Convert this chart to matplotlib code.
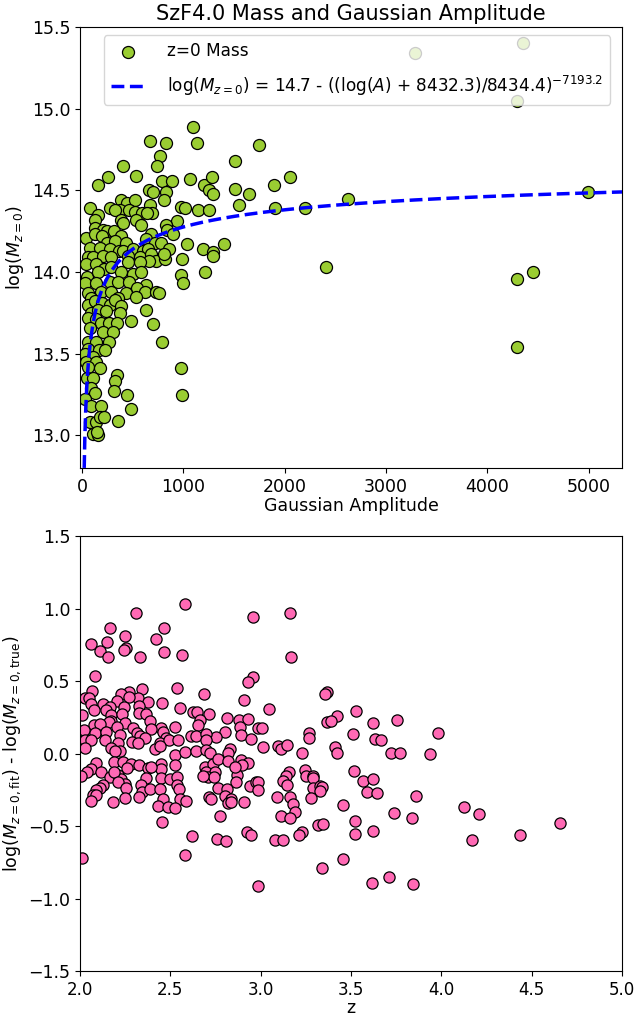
import numpy as np
import matplotlib.pyplot as plt

plt.rcParams['font.size'] = 12.5
plt.rcParams['axes.labelsize'] = 12.5
plt.rcParams['xtick.labelsize'] = 12.5
plt.rcParams['ytick.labelsize'] = 12.5
plt.rcParams['legend.fontsize'] = 12.2

# Panel superior: masa z=0 vs amplitud gaussiana
amp = [669, 833, 1139, 768, 408, 738, 257, 536, 158, 793, 892, 1070, 1205, 1281,
       1252, 1294, 659, 704, 830, 807, 382, 448, 527, 672, 79, 274, 372, 323, 461,
       521, 596, 692, 642, 975, 1015, 1146, 1255, 158, 131, 382, 408, 531, 586,
       936, 827, 837, 125, 205, 250, 313, 42, 125, 198, 388, 679, 896, 247, 323,
       438, 632, 724, 778, 1040, 1400, 1195, 1294, 1297, 79, 175, 274, 363, 408,
       507, 603, 652, 857, 59, 109, 207, 289, 454, 570, 679, 734, 823, 807, 662,
       991, 40, 135, 217, 289, 454, 573, 46, 158, 382, 504, 586, 975, 1218, 1001,
       33, 141, 274, 356, 461, 635, 546, 59, 185, 289, 438, 619, 728, 758, 92,
       356, 536,
       59, 125, 198, 274, 323, 382, 378, 635, 92, 158, 240, 59, 141, 191, 264,
       349, 487, 704, 76, 207, 306, 59, 141, 270, 793, 59, 165, 224, 27, 109, 42,
       141, 59, 175, 975, 52, 109, 349, 323, 92, 125, 316, 448, 991, 27, 92, 191,
       481, 76, 141, 175, 217, 356, 109, 158, 151,
       1749, 1512, 2048, 1890, 1650, 1554, 1907, 2203, 1512, 1100, 2411, 2628,
       3290, 4350, 4290, 4290, 4450, 4290, 4990]
log_masa = [14.80, 14.79, 14.79, 14.71, 14.65, 14.65, 14.58, 14.59, 14.53, 14.56,
            14.56, 14.57, 14.53, 14.58, 14.50, 14.48, 14.50, 14.49, 14.49, 14.44,
            14.44, 14.42, 14.44, 14.41, 14.39, 14.39, 14.38, 14.38, 14.38, 14.37,
            14.36, 14.36, 14.36, 14.40, 14.39, 14.38, 14.38, 14.35, 14.32, 14.32,
            14.30, 14.32, 14.29, 14.31, 14.29, 14.26, 14.27, 14.26, 14.25, 14.25,
            14.21, 14.23, 14.22, 14.22, 14.23, 14.23, 14.18, 14.19, 14.18, 14.20,
            14.18, 14.18, 14.17, 14.17, 14.14, 14.12, 14.10, 14.15, 14.15, 14.14,
            14.13, 14.13, 14.14, 14.13, 14.14, 14.14, 14.09, 14.09, 14.10, 14.09,
            14.10, 14.09, 14.11, 14.07, 14.08, 14.11, 14.07, 14.08, 14.05, 14.05,
            14.02, 14.03, 14.06, 14.06, 13.97, 14.00, 14.00, 13.99, 14.00, 13.98,
            14.00, 13.93, 13.93, 13.93, 13.94, 13.94, 13.94, 13.92, 13.90, 13.87,
            13.88, 13.88, 13.87, 13.88, 13.88, 13.87, 13.84, 13.84, 13.85,
            13.80, 13.82, 13.81, 13.80, 13.83, 13.79, 13.75, 13.77, 13.75, 13.77,
            13.76, 13.72, 13.71, 13.69, 13.69, 13.69, 13.70, 13.68, 13.66, 13.63,
            13.63, 13.57, 13.57, 13.57, 13.57, 13.53, 13.52, 13.52, 13.50, 13.48,
            13.45, 13.45, 13.42, 13.41, 13.41, 13.35, 13.35, 13.37, 13.33, 13.29,
            13.26, 13.27, 13.25, 13.25, 13.22, 13.18, 13.18, 13.16, 13.08, 13.08,
            13.11, 13.11, 13.09, 13.01, 13.00, 13.02,
            14.78, 14.68, 14.58, 14.53, 14.48, 14.41, 14.39, 14.39, 14.51, 14.89,
            14.03, 14.45, 15.34, 15.40, 15.05, 13.96, 14.00, 13.54, 14.49]

# Parametros del ajuste
fit_a, fit_b, fit_c, fit_d = 14.74, 8432.3, 8434.4, -7193.2

# Panel inferior: residuos vs redshift
z_vals = [2.583, 2.312, 2.957, 2.164, 2.465, 2.247, 2.419, 2.059, 2.151, 2.256,
          2.242, 2.109, 2.463, 2.155, 2.334, 2.566, 2.085, 2.957, 2.930, 2.537,
          2.066, 2.343, 2.271, 2.225, 2.026, 2.048, 2.686, 2.321, 2.271, 2.063,
          2.127, 2.206, 2.376, 2.454, 2.908, 2.164, 2.243, 2.327, 2.552, 2.076,
          2.146, 2.625, 2.647, 2.712, 2.327, 2.173, 2.234, 2.367, 2.011, 2.662,
          2.814, 2.878, 2.930, 2.173, 2.247, 2.386, 2.160, 2.077, 2.109, 2.206,
          2.293, 2.450, 2.524, 2.653, 2.884, 2.022, 2.081, 2.146, 2.220, 2.317,
          2.391, 2.459, 2.801, 2.985, 2.330, 2.358, 2.478, 2.754, 2.613, 2.644,
          2.699, 2.699, 2.893, 2.945, 2.026, 2.063, 2.137, 2.210, 2.288, 2.321,
          2.441, 2.491, 2.542,
          2.026, 2.173, 2.220, 2.413, 2.441, 2.524, 2.583, 2.644, 2.699, 2.718,
          2.828, 2.819, 2.192, 2.524, 2.188, 2.238, 2.284, 2.325, 2.262, 2.376,
          2.447, 2.450, 2.391, 2.090, 2.063, 2.040, 2.115, 2.007, 2.164, 2.210,
          2.229, 2.188, 2.364, 2.450, 2.496, 2.538, 2.690, 2.736, 2.764, 2.819,
          2.699, 2.745, 2.708, 2.742, 2.681, 2.889, 2.930, 2.898, 2.870, 2.865,
          2.942, 2.976, 2.856, 2.247, 2.210, 2.127, 2.109, 2.090, 2.072, 2.090,
          2.256, 2.339, 2.345, 2.386, 2.441, 2.537, 2.548, 2.327, 2.247, 2.183,
          2.059, 2.459, 2.552, 2.588, 2.432, 2.487, 2.527, 2.764, 2.815, 2.801,
          2.837, 2.712, 2.727, 2.819, 2.837, 2.908, 2.773, 2.455, 2.620, 2.760,
          2.810, 2.926, 2.945, 2.583, 2.011,
          3.168, 3.162, 3.369, 3.356, 3.048, 3.527, 3.421, 3.369, 3.389, 3.623,
          3.756, 3.005, 3.269, 3.269, 3.509, 3.983, 3.633, 3.664, 3.011, 3.097,
          3.111, 3.147, 3.411, 3.421, 3.230, 3.721, 3.771, 3.937, 3.516, 3.245,
          3.251, 3.291, 3.291, 3.158, 3.140, 3.122, 3.147, 3.568, 3.620, 2.987,
          2.987, 3.288, 3.328, 3.338, 3.328, 3.590, 3.645, 3.089, 3.162, 3.277,
          3.859, 3.177, 3.457, 3.190, 3.112, 3.162, 3.738, 3.837, 3.522, 3.315,
          3.346, 3.227, 3.214, 3.522, 3.620, 3.079, 3.122, 3.454,
          2.987, 3.338, 4.127, 4.206, 4.171, 4.435, 4.656, 3.618, 3.710, 3.845]
residuo = [1.028, 0.967, 0.942, 0.863, 0.863, 0.811, 0.789, 0.755, 0.768, 0.728,
           0.716, 0.705, 0.701, 0.665, 0.667, 0.678, 0.536, 0.525, 0.491, 0.452,
           0.430, 0.445, 0.423, 0.412, 0.385, 0.385, 0.408, 0.385, 0.389, 0.344,
           0.344, 0.360, 0.355, 0.349, 0.367, 0.322, 0.322, 0.326, 0.315, 0.299,
           0.299, 0.288, 0.288, 0.272, 0.283, 0.265, 0.272, 0.272, 0.265, 0.232,
           0.242, 0.232, 0.236, 0.227, 0.213, 0.227, 0.215, 0.198, 0.204, 0.186,
           0.179, 0.175, 0.181, 0.198, 0.186, 0.164, 0.141, 0.152, 0.130, 0.141,
           0.171, 0.152, 0.152, 0.175, 0.118, 0.107, 0.107, 0.112, 0.118, 0.118,
           0.137, 0.091, 0.130, 0.100, 0.096, 0.091, 0.091, 0.073, 0.078, 0.073,
           0.073, 0.091, 0.091,
           0.039, 0.039, 0.017, 0.028, 0.051, -0.012, 0.012, 0.017, 0.024, 0.001,
           0.028, 0.005, 0.017, -0.080, -0.058, -0.058, -0.073, -0.080, -0.103, -0.103,
           -0.073, -0.107, -0.096, -0.066, -0.107, -0.125, -0.125, -0.152, -0.164, -0.148,
           -0.175, -0.130, -0.171, -0.171, -0.175, -0.164, -0.096, -0.073, -0.039, -0.051,
           -0.125, -0.125, -0.164, -0.164, -0.157, -0.044, -0.062, -0.080, -0.148, -0.198,
           -0.227, -0.198, -0.096, -0.209, -0.198, -0.220, -0.238, -0.254, -0.283, -0.288,
           -0.238, -0.220, -0.265, -0.242, -0.242, -0.220, -0.242, -0.299, -0.306, -0.333,
           -0.328, -0.310, -0.310, -0.328, -0.362, -0.367, -0.378, -0.238, -0.247, -0.292,
           -0.315, -0.299, -0.315, -0.344, -0.333, -0.337, -0.430, -0.473, -0.570, -0.592,
           -0.604, -0.543, -0.559, -0.699, -0.723,
           0.665, 0.969, 0.423, 0.408, 0.310, 0.294, 0.261, 0.218, 0.227, 0.213,
           0.232, 0.175, 0.141, 0.107, 0.137, 0.141, 0.103, 0.091, 0.046, 0.051,
           0.028, 0.062, 0.046, 0.005, 0.001, 0.001, 0.001, -0.005, -0.118, -0.112,
           -0.152, -0.152, -0.171, -0.130, -0.152, -0.186, -0.215, -0.186, -0.175, -0.193,
           -0.254, -0.238, -0.225, -0.232, -0.261, -0.265, -0.269, -0.299, -0.299, -0.306,
           -0.294, -0.351, -0.355, -0.405, -0.428, -0.441, -0.408, -0.441, -0.468, -0.491,
           -0.486, -0.540, -0.563, -0.554, -0.536, -0.599, -0.599, -0.725,
           -0.913, -0.791, -0.367, -0.418, -0.599, -0.559, -0.479, -0.892, -0.852, -0.902]

fig = plt.figure(figsize=(6.37, 10.19), dpi=100)
ax1 = fig.add_axes([0.1256, 0.5407, 0.8509, 0.4328])
ax2 = fig.add_axes([0.1256, 0.047, 0.8509, 0.427])

# Grafica superior
amp_fit = np.linspace(1, 5330, 600)
logm_fit = fit_a - ((np.log10(amp_fit) + fit_b) / fit_c) ** fit_d
ax1.scatter(amp, log_masa, s=75, c='yellowgreen', edgecolors='black',
            linewidths=0.9, label='z=0 Mass', zorder=2)
ax1.plot(amp_fit, logm_fit, '--', color='blue', linewidth=2.5, zorder=3,
         label=r'log($M_{z=0}$) = 14.7 - ((log($A$) + 8432.3)/8434.4)$^{-7193.2}$')
ax1.set_xlim(-20, 5330)
ax1.set_ylim(12.8, 15.5)
ax1.set_xticks([0, 1000, 2000, 3000, 4000, 5000])
ax1.set_yticks([13.0, 13.5, 14.0, 14.5, 15.0, 15.5])
ax1.set_xlabel('Gaussian Amplitude', labelpad=1)
ax1.set_ylabel(r'log($M_{z=0}$)')
ax1.set_title('SzF4.0 Mass and Gaussian Amplitude', fontsize=15, pad=5)
ax1.legend(loc='upper center', bbox_to_anchor=(0.511, 1.0),
           handletextpad=1.3, labelspacing=0.8)

# Grafica inferior
ax2.scatter(z_vals, residuo, s=65, c='hotpink', edgecolors='black',
            linewidths=0.9, zorder=2)
ax2.set_xlim(2.0, 5.0)
ax2.set_ylim(-1.5, 1.5)
ax2.set_xticks([2.0, 2.5, 3.0, 3.5, 4.0, 4.5, 5.0])
ax2.set_yticks([-1.5, -1.0, -0.5, 0.0, 0.5, 1.0, 1.5])
ax2.tick_params(axis='x', labelsize=12)
ax2.set_xlabel('z', labelpad=0)
ax2.set_ylabel(r'log($M_{z=0,\mathrm{fit}}$) - log($M_{z=0,\mathrm{true}}$)')

fig.savefig('out.png', dpi=100)
